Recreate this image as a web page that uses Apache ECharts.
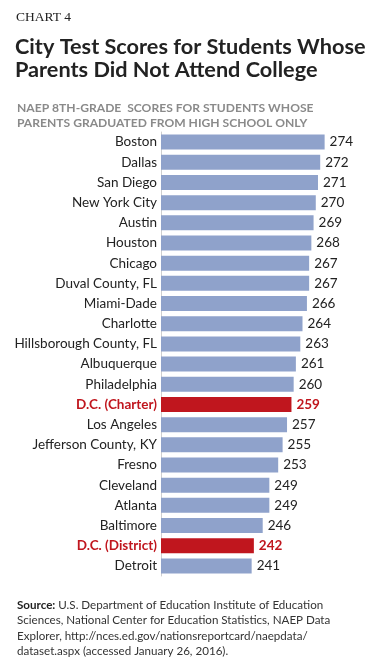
<!DOCTYPE html>
<html><head><meta charset="utf-8">
<script src="https://cdn.jsdelivr.net/npm/echarts@6/dist/echarts.min.js"></script>
<style>html,body{margin:0;padding:0;background:#fff}#c{width:382px;height:671px}</style>
</head><body><div id="c"></div>
<script>
const categories = ["Boston","Dallas","San Diego","New York City","Austin","Houston","Chicago","Duval County, FL","Miami-Dade","Charlotte","Hillsborough County, FL","Albuquerque","Philadelphia","D.C. (Charter)","Los Angeles","Jefferson County, KY","Fresno","Cleveland","Atlanta","Baltimore","D.C. (District)","Detroit"];
const scores = [274,272,271,270,269,268,267,267,266,264,263,261,260,259,257,255,253,249,249,246,242,241];
const highlighted = ["D.C. (Charter)","D.C. (District)"];

const BLUE = '#8FA2CB', RED = '#C0161E';
const FONT = 'Lato';
const NARROW = "'Liberation Sans Narrow', Lato";
const chart = echarts.init(document.getElementById('c'));
chart.setOption({
  animation: false,
  title: [
    {text: 'CHART 4', left: 11, top: 5, textStyle: {fontFamily: 'Liberation Serif', fontSize: 13.5, fontWeight: 'normal', color: '#222'}},
    {text: 'City Test Scores for Students Whose\nParents Did Not Attend College', left: 10, top: 31, textStyle: {fontFamily: FONT, fontSize: 21.7, fontWeight: 'bold', color: '#222', lineHeight: 22.5}},
    {text: 'NAEP 8TH-GRADE  SCORES FOR STUDENTS WHOSE\nPARENTS GRADUATED FROM HIGH SCHOOL ONLY', left: 12, top: 95, textStyle: {fontFamily: FONT, fontSize: 12.1, fontWeight: 'bold', color: '#8a8a8a', lineHeight: 15.5}},
    {text: '{b|Source:} U.S. Department of Education Institute of Education\nSciences, National Center for Education Statistics, NAEP Data\nExplorer, http://nces.ed.gov/nationsreportcard/naepdata/\ndataset.aspx (accessed January 26, 2016).', left: 12, top: 592,
     textStyle: {fontFamily: NARROW, fontSize: 11.6, fontWeight: 'normal', color: '#333', lineHeight: 15.5,
       rich: {b: {fontFamily: NARROW, fontSize: 11.6, fontWeight: 'bold', color: '#222', lineHeight: 15.5}}}}
  ],
  grid: {left: 161, top: 132, width: 199, height: 444, containLabel: false},
  xAxis: {type: 'value', min: 200, max: 290, show: false},
  yAxis: {
    type: 'category', data: categories, inverse: true,
    axisLine: {show: true, lineStyle: {color: '#cfcfcf', width: 1}},
    axisTick: {show: false},
    axisLabel: {
      margin: 4, fontFamily: FONT, fontSize: 13.5, color: '#222',
      formatter: v => highlighted.includes(v) ? '{r|' + v + '}' : v,
      rich: {r: {fontFamily: FONT, fontSize: 13.5, fontWeight: 'bold', color: RED}}
    }
  },
  series: [{
    type: 'bar', barWidth: 15,
    data: categories.map((c, i) => {
      const hi = highlighted.includes(c);
      return {value: scores[i], itemStyle: {color: hi ? RED : BLUE},
        label: hi ? {color: RED, fontWeight: 'bold'} : undefined};
    }),
    label: {show: true, position: 'right', distance: 5, fontFamily: FONT, fontSize: 13.5, color: '#222'}
  }]
});
</script></body></html>
